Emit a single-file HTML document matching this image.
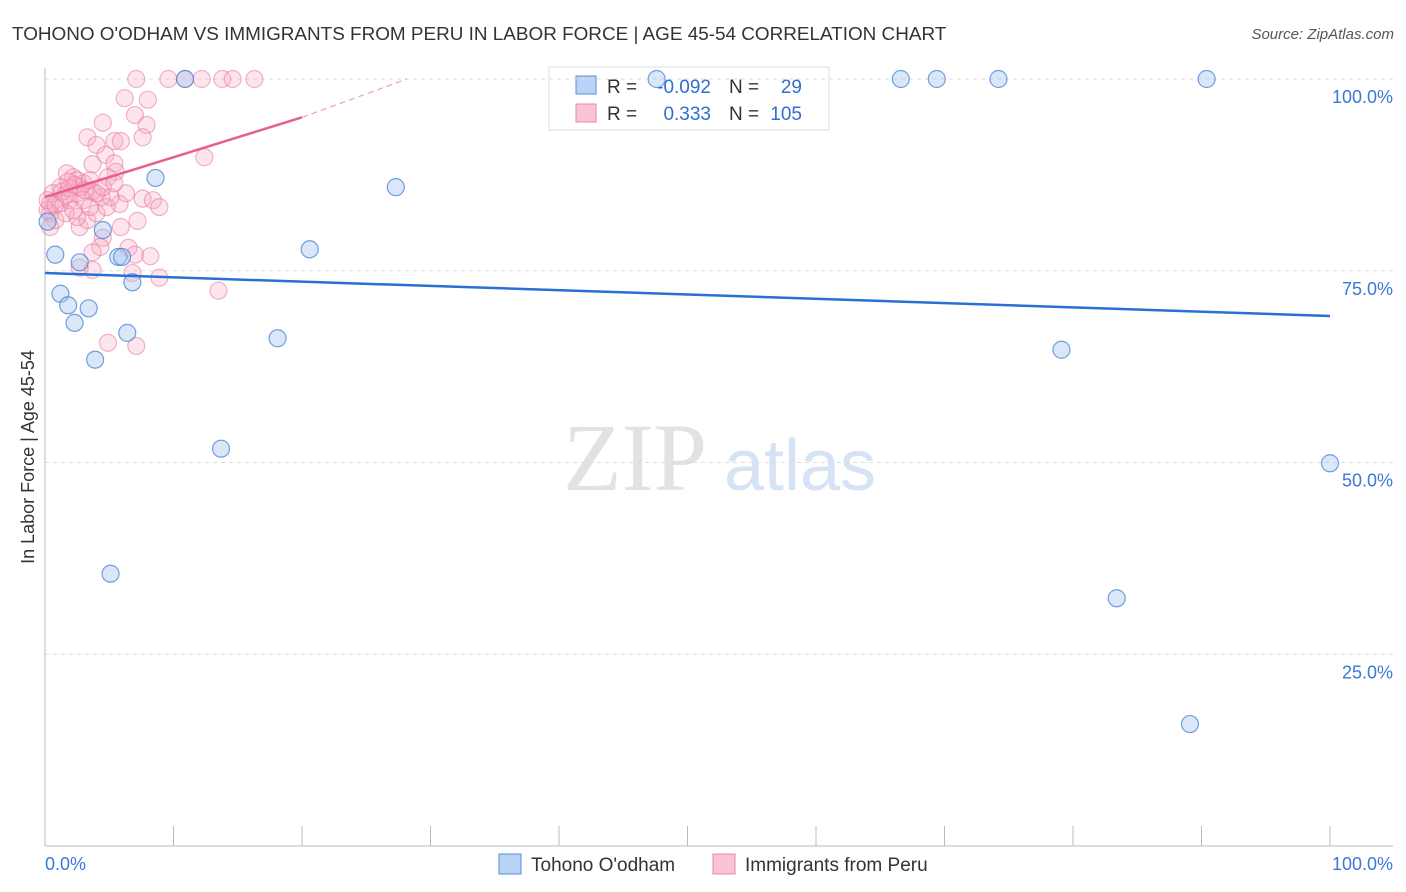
<!DOCTYPE html>
<html><head><meta charset="utf-8"><style>
body{margin:0;background:#fff;font-family:"Liberation Sans",sans-serif}
svg{display:block}
</style></head><body>
<svg id="chart" width="1406" height="892" xmlns="http://www.w3.org/2000/svg">
<text x="12" y="40" font-size="18.9" fill="#333">TOHONO O'ODHAM VS IMMIGRANTS FROM PERU IN LABOR FORCE | AGE 45-54 CORRELATION CHART</text>
<text x="1394" y="39" font-size="15" fill="#555" font-style="italic" text-anchor="end">Source: ZipAtlas.com</text>
<g><text x="635" y="490" font-size="96" font-family="Liberation Serif,serif" fill="#e2e2e2" text-anchor="middle">ZIP</text><text x="800" y="490" font-size="72" fill="#d6e3f5" text-anchor="middle">atlas</text></g>
<text transform="translate(34,457) rotate(-90)" font-size="18" fill="#333" text-anchor="middle">In Labor Force | Age 45-54</text>
<g>
<rect x="549" y="67" width="280" height="63" fill="#fff" stroke="#ddd"/>
<rect x="576" y="76" width="20" height="18" fill="#b8d3f5" stroke="#5b8fd6"/>
<rect x="576" y="104" width="20" height="18" fill="#fbc4d4" stroke="#e88aa8"/>
<g font-size="19" fill="#333"><text x="607" y="93">R =</text><text x="607" y="120">R =</text><text x="729" y="93">N =</text><text x="729" y="120">N =</text></g>
<g font-size="19" fill="#2f6fd0"><text x="711" y="93" text-anchor="end">-0.092</text><text x="711" y="120" text-anchor="end">0.333</text><text x="802" y="93" text-anchor="end">29</text><text x="802" y="120" text-anchor="end">105</text></g>
</g>
<g id="grid"></g><g id="axes"></g><g id="pts"></g><g id="trend"></g>
<g>
<rect x="499" y="854" width="22" height="20" fill="#b8d3f5" stroke="#5b8fd6"/>
<text x="531" y="871" font-size="19" fill="#333">Tohono O'odham</text>
<rect x="713" y="854" width="22" height="20" fill="#fbc4d4" stroke="#e88aa8"/>
<text x="745" y="871" font-size="19" fill="#333">Immigrants from Peru</text>
</g>
</svg>
<script>
const blueX=[10.9,47.6,66.6,69.4,74.2,90.4,0.2,0.8,2.7,5.7,6.8,1.2,1.8,3.4,2.3,3.9,6.4,8.6,4.5,13.7,5.1,18.1,20.6,27.3,79.1,100,83.4,89.1,6.0];
const blueY=[100,100,100,100,100,100,81.4,77.1,76.1,76.8,73.5,72.0,70.5,70.1,68.2,63.4,66.9,87.1,80.3,51.8,35.5,66.2,77.8,85.9,64.7,49.9,32.3,15.9,76.8];
const pinkX=[7.1,9.6,10.9,12.2,13.8,14.6,16.3,6.2,8.0,7.0,7.9,7.6,4.5,3.3,4.0,5.4,5.9,4.7,5.4,5.5,3.7,4.9,12.4,6.3,7.6,8.4,8.9,5.8,7.2,5.9,4.5,6.5,7.0,8.2,4.3,3.7,3.7,2.7,6.8,8.9,13.5,4.9,7.1,2.7,3.3,2.5,4.0,4.8,5.1,4.4,3.7,3.0,2.2,1.7,1.2,0.6,0.4,0.4,1.2,1.9,2.5,3.0,3.5,1.6,2.2,0.8,2.7,3.5,4.0,4.5,5.4,0.4,1.3,1.9,2.5,0.2,0.2,0.8,1.6,2.3,3.1,1.8];
const pinkY=[100,100,100,100,100,100,100,97.5,97.3,95.3,94.0,92.4,94.3,92.4,91.4,91.9,91.9,90.1,89.0,87.9,88.9,87.2,89.8,85.1,84.4,84.2,83.3,83.7,81.5,80.7,79.3,78.0,77.1,76.9,78.1,77.4,75.1,75.4,74.7,74.1,72.4,65.6,65.2,80.7,81.6,82.0,82.5,83.3,84.6,84.6,85.3,86.4,87.2,87.7,85.9,85.1,83.8,82.5,83.8,84.2,85.1,84.2,83.3,82.5,82.9,81.6,85.9,86.8,85.1,85.9,86.4,80.7,85.3,85.8,86.8,82.9,84.2,83.6,84.9,86.2,85.5,86.6];
const yTicks=[100,75,50,25];
const yTickLabels=["100.0%","75.0%","50.0%","25.0%"];
const xTicks=[0,10,20,30,40,50,60,70,80,90,100];
const blueTrend=[74.7,69.1];
const pinkTrend=[84.6,95.0];
const X0=45,X1=1330,Y0=846,Y100=79;
const sx=v=>X0+(X1-X0)*v/100, sy=v=>Y0-(Y0-Y100)*v/100;
const NS="http://www.w3.org/2000/svg";
function mk(p,t,a){const e=document.createElementNS(NS,t);for(const k in a)e.setAttribute(k,a[k]);p.appendChild(e);return e;}
const grid=document.getElementById('grid'),axes=document.getElementById('axes'),pts=document.getElementById('pts'),tr=document.getElementById('trend');
yTicks.forEach((v,i)=>{
 const l=mk(grid,'line',{x1:X0,x2:1393,y1:sy(v),y2:sy(v),stroke:'#ddd','stroke-dasharray':'4,4'});
 
 
 const t=mk(grid,'text',{x:1393,y:sy(v)+24,'font-size':18,fill:'#3b78d8','text-anchor':'end'});
 t.textContent=yTickLabels[i];
 
 
});
const ax=mk(axes,'line',{x1:X0,x2:X0,y1:68,y2:Y0,stroke:'#bbb'});


const bx=mk(axes,'line',{x1:X0,x2:1393,y1:Y0,y2:Y0,stroke:'#bbb'});


xTicks.forEach(v=>{
 const l=mk(axes,'line',{x1:sx(v),x2:sx(v),y1:826,y2:Y0,stroke:'#bbb'});
 
 
});
const xl0=mk(axes,'text',{x:45,y:870,'font-size':18,fill:'#3b78d8'});xl0.textContent='0.0%';


const xl1=mk(axes,'text',{x:1393,y:870,'font-size':18,fill:'#3b78d8','text-anchor':'end'});xl1.textContent='100.0%';


pinkX.forEach((x,i)=>{
 const c=mk(pts,'circle',{cx:sx(x),cy:sy(pinkY[i]),r:8.5,fill:'rgba(248,170,195,0.3)',stroke:'rgba(232,120,155,0.55)','stroke-width':1.2});
 
 
});
blueX.forEach((x,i)=>{
 const c=mk(pts,'circle',{cx:sx(x),cy:sy(blueY[i]),r:8.5,fill:'rgba(160,195,240,0.4)',stroke:'rgba(70,130,210,0.75)','stroke-width':1.2});
 
 
});
const bl=mk(tr,'line',{x1:sx(0),y1:sy(blueTrend[0]),x2:sx(100),y2:sy(blueTrend[1]),stroke:'#2a6fd6','stroke-width':2.5});


const pk=x=>pinkTrend[0]+(pinkTrend[1]-pinkTrend[0])*x/20;
const pl=mk(tr,'line',{x1:sx(0),y1:sy(pk(0)),x2:sx(20),y2:sy(pk(20)),stroke:'#e8608a','stroke-width':2.5});


const xe=20+(100-pk(20))/(pinkTrend[1]-pinkTrend[0])*20*0.85;
const pd=mk(tr,'line',{x1:sx(20),y1:sy(pk(20)),x2:sx(xe),y2:sy(100),stroke:'#f0a0b8','stroke-width':1.2,'stroke-dasharray':'6,4'});


</script>
</body></html>
